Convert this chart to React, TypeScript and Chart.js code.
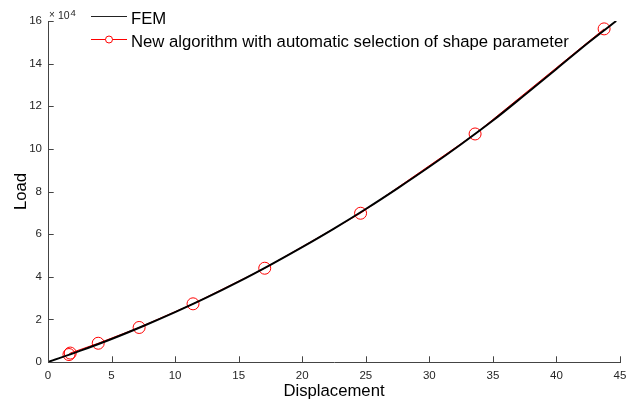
import React, { useEffect, useRef } from "react";
import { Chart, registerables } from "chart.js";

Chart.register(...registerables);

const femDisp = [0, 2.5, 5, 7.5, 10, 12.5, 15, 17.5, 20, 22.5, 25, 27.5, 30, 32.5, 35, 37.5, 40, 42.5, 44.7];
const femLoad = [0, 5200, 10800, 16900, 23400, 30300, 37700, 45600, 53900, 62600, 71800, 81500, 91600, 102200, 113300, 125300, 137500, 149800, 160000];

const algDisp = [1.65, 1.75, 3.95, 7.17, 11.41, 17.05, 24.59, 33.6, 43.75];
const algLoad = [3500, 4200, 8800, 16200, 27300, 44000, 69800, 107000, 156300];

const xTicks = [0, 5, 10, 15, 20, 25, 30, 35, 40, 45];
const yTicks = [0, 2, 4, 6, 8, 10, 12, 14, 16];
const yScaleFactor = 10000;

const seriesLabels = ["FEM", "New algorithm with automatic selection of shape parameter"];
const legendColors = ["#222222", "#ff0000"];

const FONT = "'Liberation Sans', Arial, Helvetica, sans-serif";

const decorPlugin = {
  id: "decor",
  afterDraw(chart: any) {
    const ctx = chart.ctx;
    const xs = chart.scales.x;
    const ys = chart.scales.y;
    const area = chart.chartArea;
    const tl = 5.7;
    ctx.save();
    ctx.strokeStyle = "#444";
    ctx.lineWidth = 1;
    ctx.beginPath();
    xTicks.forEach((v) => {
      const px = Math.round(xs.getPixelForValue(v)) + 0.5;
      ctx.moveTo(px, area.bottom);
      ctx.lineTo(px, area.bottom - tl);
    });
    yTicks.forEach((v) => {
      const py = Math.round(ys.getPixelForValue(v * yScaleFactor)) + 0.5;
      ctx.moveTo(area.left, py);
      ctx.lineTo(area.left + tl, py);
    });
    ctx.stroke();

    // exponent label
    ctx.fillStyle = "#262626";
    ctx.textBaseline = "alphabetic";
    ctx.textAlign = "left";
    ctx.font = `10px ${FONT}`;
    ctx.fillText("\u00d7", 49, 18);
    ctx.font = `10.5px ${FONT}`;
    ctx.fillText("10", 58, 19);
    ctx.font = `9.5px ${FONT}`;
    ctx.fillText("4", 70.5, 15.5);

    // legend
    const items = chart.data.datasets;
    const rows = [24, 47];
    items.forEach((ds: any, i: number) => {
      const base = rows[i];
      const ly = Math.round(base - 8) + 0.5;
      ctx.strokeStyle = legendColors[i];
      ctx.lineWidth = 1;
      ctx.beginPath();
      ctx.moveTo(91, ly);
      ctx.lineTo(127, ly);
      ctx.stroke();
      if (ds.pointRadius > 0) {
        ctx.beginPath();
        ctx.arc(109, ly, 3.5, 0, Math.PI * 2);
        ctx.fillStyle = "#fff";
        ctx.fill();
        ctx.strokeStyle = legendColors[i];
        ctx.stroke();
      }
      ctx.fillStyle = "#000";
      ctx.font = `16.7px ${FONT}`;
      ctx.fillText(ds.label, 131, base);
    });
    ctx.restore();
  },
};

export default function App() {
  const ref = useRef<HTMLCanvasElement>(null);
  useEffect(() => {
    const canvas = ref.current!;
    const chart = new Chart(canvas, {
      type: "line",
      data: {
        datasets: [
          {
            label: seriesLabels[0],
            data: femDisp.map((x, i) => ({ x, y: femLoad[i] })),
            borderColor: "#000",
            borderWidth: 2,
            pointRadius: 0,
            cubicInterpolationMode: "monotone",
            order: 0,
          },
          {
            label: seriesLabels[1],
            data: algDisp.map((x, i) => ({ x, y: algLoad[i] })),
            borderColor: "#ff0000",
            borderWidth: 1,
            pointRadius: 6,
            pointBorderWidth: 1,
            pointBackgroundColor: "rgba(0,0,0,0)",
            pointBorderColor: "#ff0000",
            tension: 0,
            order: 1,
          },
        ],
      },
      options: {
        animation: false,
        responsive: false,
        devicePixelRatio: 1,
        layout: { padding: { top: 21, right: 6, left: 0, bottom: 0 } },
        plugins: { legend: { display: false }, tooltip: { enabled: false } },
        scales: {
          x: {
            type: "linear",
            min: 0,
            max: 45,
            grid: { display: false, drawTicks: false },
            border: { display: true, color: "#444", width: 1 },
            afterBuildTicks: (s: any) => {
              s.ticks = xTicks.map((v) => ({ value: v }));
            },
            ticks: {
              padding: 7,
              maxRotation: 0,
              autoSkip: false,
              color: "#262626",
              font: { family: FONT, size: 11.5 },
            },
            title: {
              display: true,
              text: "Displacement",
              color: "#000",
              font: { family: FONT, size: 16.7 },
              padding: { top: 0, bottom: 3 },
            },
            afterFit: (s: any) => {
              s.height = 42;
              s.paddingLeft = 0;
              s.paddingRight = 0;
            },
          },
          y: {
            type: "linear",
            min: 0,
            max: 16 * yScaleFactor,
            grid: { display: false, drawTicks: false },
            border: { display: true, color: "#444", width: 1 },
            afterBuildTicks: (s: any) => {
              s.ticks = yTicks.map((v) => ({ value: v * yScaleFactor }));
            },
            ticks: {
              padding: 6,
              autoSkip: false,
              color: "#262626",
              font: { family: FONT, size: 11.5 },
              callback: (v: any) => String(Number(v) / yScaleFactor),
            },
            title: {
              display: true,
              text: "Load",
              color: "#000",
              font: { family: FONT, size: 16.7 },
              padding: { top: 11, bottom: 0 },
            },
            afterFit: (s: any) => {
              s.width = 48;
              s.paddingTop = 0;
              s.paddingBottom = 0;
            },
          },
        },
      },
      plugins: [decorPlugin],
    } as any);
    return () => chart.destroy();
  }, []);
  return (
    <div style={{ position: "absolute", left: 0, top: 0, width: 627, height: 404, background: "#fff" }}>
      <canvas ref={ref} width={627} height={404} />
    </div>
  );
}
